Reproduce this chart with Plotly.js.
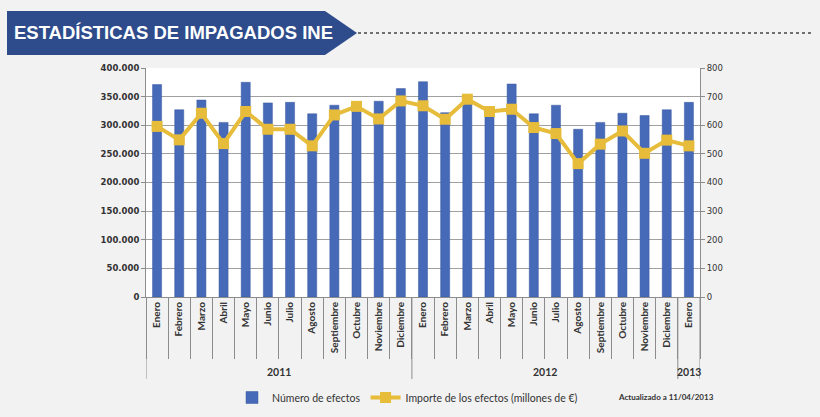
<!DOCTYPE html>
<html>
<head>
<meta charset="utf-8">
<script src="https://cdn.plot.ly/plotly-3.0.1.min.js"></script>
<style>
  html, body { margin: 0; padding: 0; background: #f2f2f2; }
  #chart { width: 820px; height: 417px; }
</style>
</head>
<body>
<div id="chart"></div>
<script>
const meses = ["Enero","Febrero","Marzo","Abril","Mayo","Junio","Julio","Agosto","Septiembre","Octubre","Noviembre","Diciembre",
               "Enero","Febrero","Marzo","Abril","Mayo","Junio","Julio","Agosto","Septiembre","Octubre","Noviembre","Diciembre",
               "Enero"];
const anios = ["2011","2011","2011","2011","2011","2011","2011","2011","2011","2011","2011","2011",
               "2012","2012","2012","2012","2012","2012","2012","2012","2012","2012","2012","2012",
               "2013"];
const numeroEfectos = [371000,327000,344000,305000,375000,339000,340000,320000,335000,340000,342000,364000,
                       376000,322000,340000,321000,372000,320000,335000,293000,305000,321000,317000,327000,
                       340000];
const importe = [596,549,642,536,648,586,586,528,636,666,622,685,
                 668,621,691,648,656,592,571,466,534,580,502,548,
                 528];
const serieBarras = "Número de efectos";
const serieLinea = "Importe de los efectos (millones de €)";
const titulo = "ESTADÍSTICAS DE IMPAGADOS INE";
const nota = "Actualizado a 11/04/2013";

const idx = meses.map((_, i) => i);

// Plot area in pixels
const L = 146, R = 700, T = 68, B = 297, W = 820, H = 417;
const px = x => (x - L) / (R - L);
const py = y => (B - y) / (B - T);

// Year groups from the data
const grupos = [];
anios.forEach((a, i) => {
  if (!grupos.length || grupos[grupos.length - 1].a !== a) grupos.push({a: a, start: i, end: i});
  else grupos[grupos.length - 1].end = i;
});

const shapes = [];
shapes.push({
  type: 'path', xref: 'paper', yref: 'paper',
  path: `M ${px(7)} ${py(11)} L ${px(325)} ${py(11)} L ${px(357)} ${py(33)} L ${px(325)} ${py(55)} L ${px(7)} ${py(55)} Z`,
  fillcolor: '#2e4c8b', line: {width: 0}
});
shapes.push({
  type: 'line', xref: 'paper', yref: 'paper',
  x0: px(358), x1: px(812), y0: py(33), y1: py(33),
  line: {color: '#444', width: 1.5, dash: 'dot'}
});
const bounds = new Set();
grupos.forEach(g => { bounds.add(g.start - 0.5); bounds.add(g.end + 0.5); });
bounds.forEach(b => {
  shapes.push({
    type: 'line', xref: 'x', yref: 'paper', x0: b, x1: b, y0: 0, y1: py(379),
    line: {color: '#8c8c8c', width: 1}
  });
});

const annotations = [];
annotations.push({
  xref: 'paper', yref: 'paper', x: px(12), y: py(33), xanchor: 'left', yanchor: 'middle',
  text: titulo, showarrow: false,
  font: {family: 'Liberation Sans, Arial', size: 18.5, color: '#ffffff', weight: 'bold'}
});
grupos.forEach(g => {
  annotations.push({
    xref: 'x', yref: 'paper', x: (g.start + g.end) / 2, y: py(372), xanchor: 'center', yanchor: 'middle',
    text: '<b>' + g.a + '</b>', showarrow: false,
    font: {family: 'Lato', size: 10.5, color: '#333'}
  });
});
annotations.push({
  xref: 'paper', yref: 'paper', x: px(666), y: py(397), xanchor: 'center', yanchor: 'middle',
  text: '<b>' + nota + '</b>', showarrow: false,
  font: {family: 'Lato', size: 8, color: '#333'}
});

const data = [
  {
    type: 'bar', x: idx, y: numeroEfectos, name: serieBarras,
    marker: {color: '#4669b8', line: {color: '#3a5aa0', width: 0.5}},
    yaxis: 'y'
  },
  {
    type: 'scatter', mode: 'lines+markers', x: idx, y: importe, name: serieLinea,
    line: {color: '#e6bc3a', width: 4},
    marker: {color: '#e6bc3a', symbol: 'square', size: 11},
    yaxis: 'y2'
  }
];

const layout = {
  width: W, height: H,
  margin: {l: L, r: W - R, t: T, b: H - B},
  paper_bgcolor: '#f2f2f2',
  plot_bgcolor: '#ffffff',
  separators: ',.',
  bargap: 0.59,
  showlegend: true,
  legend: {
    orientation: 'h', xref: 'container', yref: 'container',
    x: 232 / W, y: 1 - 383 / H, xanchor: 'left', yanchor: 'top',
    font: {family: 'Lato', size: 10.5, color: '#333'},
    bgcolor: 'rgba(0,0,0,0)', itemwidth: 30, tracegroupgap: 0
  },
  xaxis: {
    type: 'linear', range: [-0.5, meses.length - 0.5],
    tickvals: idx, ticktext: meses, tickangle: -90,
    tickfont: {family: 'Lato', size: 10, color: '#333', weight: 'bold'},
    ticks: '', showgrid: false, zeroline: false, automargin: false,
    showline: true, linecolor: '#8c8c8c', linewidth: 1,
    minor: {tick0: -0.5, dtick: 1, ticks: 'outside', ticklen: 61, tickcolor: '#8c8c8c', tickwidth: 1, showgrid: false},
    fixedrange: true
  },
  yaxis: {
    range: [0, 400000], dtick: 50000, tickformat: ',d', automargin: false,
    showgrid: true, gridcolor: '#a0a0a0', gridwidth: 1,
    showline: true, linecolor: '#8c8c8c', linewidth: 1,
    ticks: 'outside', ticklen: 4, tickcolor: '#8c8c8c',
    tickfont: {family: 'DejaVu Sans', size: 8.5, color: '#333', weight: 'bold'},
    zeroline: false
  },
  yaxis2: {
    range: [0, 800], dtick: 100, overlaying: 'y', side: 'right', automargin: false,
    showgrid: false, showline: true, linecolor: '#8c8c8c', linewidth: 1,
    ticks: 'outside', ticklen: 4, tickcolor: '#8c8c8c',
    tickfont: {family: 'DejaVu Sans', size: 8.5, color: '#333'},
    zeroline: false
  },
  shapes: shapes,
  annotations: annotations
};

Plotly.newPlot('chart', data, layout, {staticPlot: true, displayModeBar: false});
</script>
</body>
</html>
